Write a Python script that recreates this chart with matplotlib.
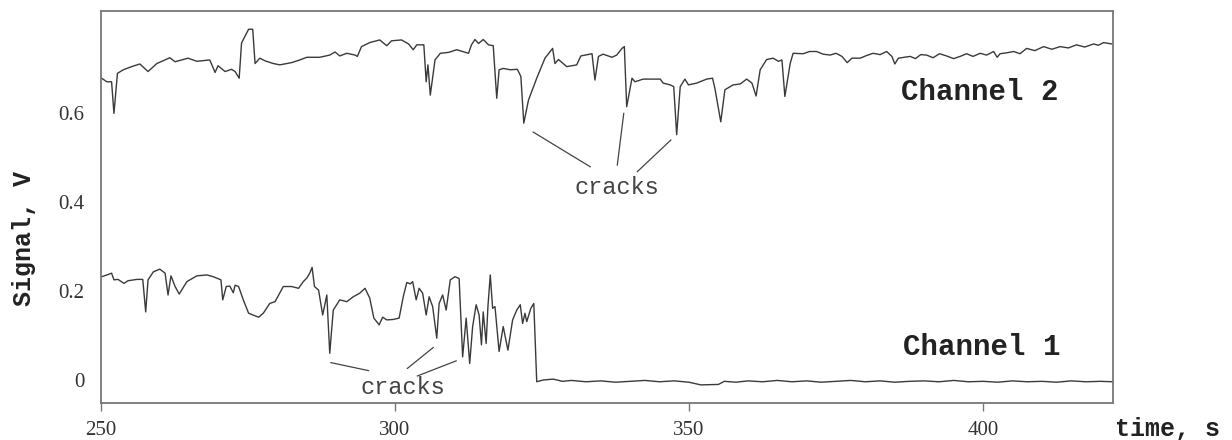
import matplotlib
matplotlib.use("Agg")
import matplotlib.pyplot as plt

# ---------------- data ----------------
ch2_t = [250.1, 251.0, 251.8, 252.2, 252.8, 253.8, 255.2, 256.6, 258.0, 259.5,
         261.7, 262.6, 264.8, 266.3, 268.5, 269.4, 269.9, 271.1, 272.2, 272.8,
         273.5, 273.9, 275.1, 275.8, 276.2, 277.0, 277.9, 279.3, 280.4, 282.4,
         283.8, 285.0, 287.2, 288.9, 289.8, 290.6, 291.8, 293.2, 293.6, 294.3,
         295.7, 297.4, 298.6, 299.4, 301.1, 302.3, 303.1, 303.7, 304.9, 305.3,
         305.6, 306.0, 306.8, 307.7, 309.1, 310.5, 312.5, 313.0, 313.6, 314.2,
         315.0, 315.9, 316.7, 317.3, 317.7, 318.4, 319.6, 320.8, 321.4, 321.9,
         322.7, 324.1, 325.5, 326.8, 327.2, 327.8, 329.2, 330.9, 331.6, 333.5,
         334.0, 334.6, 335.4, 336.9, 337.7, 338.6, 339.0, 339.4, 340.3, 340.8,
         342.2, 345.1, 345.6, 346.8, 347.4, 347.9, 348.5, 349.3, 349.9, 351.3,
         353.0, 354.0, 354.4, 355.4, 356.1, 357.5, 358.7, 359.8, 360.7, 361.4,
         362.1, 363.2, 364.3, 365.2, 365.8, 366.3, 367.2, 367.7, 369.4, 370.5,
         371.7, 372.8, 374.0, 375.0, 376.0, 376.9, 377.7, 379.1, 380.2, 381.3,
         382.5, 383.6, 384.5, 385.0, 385.6, 387.6, 388.5, 389.4, 390.4, 391.5,
         392.6, 393.8, 395.0, 396.1, 397.2, 398.3, 399.5, 400.6, 401.8, 402.4,
         402.9, 404.0, 405.2, 406.3, 407.4, 408.8, 410.3, 411.7, 413.1, 414.5,
         415.9, 417.3, 418.8, 419.6, 420.5, 421.9]
ch2_v = [0.678, 0.670, 0.670, 0.599, 0.689, 0.697, 0.704, 0.710, 0.693, 0.711,
         0.724, 0.715, 0.723, 0.716, 0.719, 0.691, 0.706, 0.693, 0.698, 0.693,
         0.678, 0.757, 0.788, 0.788, 0.711, 0.723, 0.717, 0.711, 0.708, 0.713,
         0.719, 0.725, 0.725, 0.730, 0.737, 0.728, 0.734, 0.730, 0.727, 0.749,
         0.758, 0.764, 0.751, 0.762, 0.764, 0.755, 0.742, 0.753, 0.753, 0.670,
         0.708, 0.640, 0.719, 0.734, 0.736, 0.742, 0.734, 0.753, 0.765, 0.756,
         0.765, 0.753, 0.751, 0.633, 0.697, 0.700, 0.697, 0.698, 0.682, 0.577,
         0.629, 0.678, 0.723, 0.745, 0.711, 0.720, 0.704, 0.708, 0.728, 0.733,
         0.674, 0.727, 0.732, 0.725, 0.730, 0.745, 0.749, 0.614, 0.678, 0.670,
         0.676, 0.676, 0.667, 0.663, 0.659, 0.551, 0.659, 0.676, 0.663, 0.667,
         0.676, 0.678, 0.655, 0.580, 0.652, 0.663, 0.665, 0.676, 0.667, 0.638,
         0.697, 0.720, 0.723, 0.716, 0.719, 0.637, 0.711, 0.734, 0.733, 0.738,
         0.738, 0.732, 0.730, 0.734, 0.727, 0.713, 0.723, 0.723, 0.729, 0.734,
         0.731, 0.738, 0.727, 0.710, 0.723, 0.727, 0.722, 0.731, 0.730, 0.724,
         0.733, 0.728, 0.722, 0.727, 0.733, 0.727, 0.734, 0.730, 0.738, 0.725,
         0.733, 0.735, 0.738, 0.733, 0.745, 0.740, 0.749, 0.743, 0.749, 0.746,
         0.753, 0.748, 0.755, 0.752, 0.758, 0.755]

ch1_t = [250.1, 251.0, 251.8, 252.2, 252.9, 253.9, 254.6, 256.1, 257.1, 257.6,
         258.0, 258.9, 260.0, 260.9, 261.4, 261.9, 262.6, 263.3, 264.6, 266.3,
         268.0, 269.1, 270.4, 270.7, 271.3, 271.9, 272.5, 272.8, 273.4, 274.2,
         275.1, 276.8, 277.6, 278.7, 279.6, 281.0, 282.4, 283.6, 284.4, 285.0,
         285.5, 285.9, 286.3, 287.0, 287.7, 288.4, 288.9, 289.5, 290.6, 291.8,
         292.9, 294.0, 294.9, 295.7, 296.4, 297.3, 297.9, 298.6, 299.7, 300.7,
         301.4, 302.0, 302.6, 303.0, 303.6, 304.1, 304.7, 305.3, 305.8, 306.4,
         307.1, 307.5, 308.1, 308.7, 309.4, 310.2, 310.9, 311.5, 312.1, 312.7,
         313.2, 313.8, 314.3, 314.7, 315.0, 315.5, 315.8, 316.2, 316.6, 317.0,
         317.7, 318.4, 319.2, 320.0, 320.7, 321.3, 321.7, 322.1, 322.4, 323.1,
         323.6, 324.1, 325.2, 326.9, 328.5, 330.0, 332.5, 335.0, 337.5, 340.0,
         342.5, 345.0, 347.5, 350.0, 352.0, 355.0, 356.0, 358.0, 360.0, 362.5,
         365.0, 367.5, 370.0, 372.5, 375.0, 377.5, 380.0, 382.5, 385.0, 387.5,
         390.0, 392.5, 395.0, 397.5, 400.0, 402.5, 405.0, 407.5, 410.0, 412.5,
         415.0, 417.5, 420.0, 422.0]
ch1_v = [0.232, 0.236, 0.240, 0.225, 0.226, 0.217, 0.223, 0.226, 0.226, 0.153,
         0.225, 0.243, 0.249, 0.240, 0.191, 0.234, 0.210, 0.193, 0.221, 0.234,
         0.236, 0.232, 0.225, 0.180, 0.210, 0.211, 0.196, 0.213, 0.210, 0.180,
         0.150, 0.141, 0.150, 0.172, 0.176, 0.210, 0.210, 0.206, 0.221, 0.229,
         0.240, 0.253, 0.210, 0.202, 0.146, 0.191, 0.060, 0.157, 0.180, 0.176,
         0.187, 0.195, 0.206, 0.184, 0.139, 0.124, 0.141, 0.135, 0.136, 0.139,
         0.187, 0.219, 0.216, 0.221, 0.180, 0.206, 0.195, 0.146, 0.187, 0.165,
         0.094, 0.172, 0.191, 0.157, 0.225, 0.232, 0.228, 0.052, 0.139, 0.037,
         0.120, 0.169, 0.146, 0.079, 0.153, 0.082, 0.165, 0.236, 0.161, 0.165,
         0.064, 0.120, 0.067, 0.135, 0.157, 0.169, 0.127, 0.150, 0.131, 0.161,
         0.172, -0.004, 0.000, 0.002, -0.003, -0.001, -0.004, -0.002, -0.005, -0.003,
         -0.001, -0.004, -0.002, -0.005, -0.011, -0.010, -0.003, -0.005, -0.002, -0.004,
         -0.001, -0.004, -0.002, -0.005, -0.003, -0.001, -0.004, -0.002, -0.005, -0.003,
         -0.002, -0.004, -0.001, -0.004, -0.003, -0.005, -0.002, -0.004, -0.003, -0.005,
         -0.002, -0.004, -0.003, -0.004]

x_ticks = [250, 300, 350, 400]
x_tick_labels = ["250", "300", "350", "400"]
y_ticks = [0.0, 0.2, 0.4, 0.6]
y_tick_labels = ["0", "0.2", "0.4", "0.6"]

# annotation leader lines: (start_t, start_v, end_t, end_v)
ch2_leaders = [(323.5, 0.557, 333.2, 0.479),
               (338.9, 0.599, 337.8, 0.483),
               (346.9, 0.539, 341.2, 0.468)]
ch1_leaders = [(289.1, 0.039, 295.5, 0.021),
               (306.5, 0.073, 302.1, 0.026),
               (310.4, 0.043, 303.8, 0.009)]

# ---------------- figure ----------------
W, H = 1232, 440
fig = plt.figure(figsize=(W / 100, H / 100), dpi=100)
ax = fig.add_axes([101 / W, 1 - 403 / H, (1113 - 101) / W, (403 - 11) / H])

line_color = "#3a3a3a"
ax.plot(ch2_t, ch2_v, color=line_color, lw=1.0)
ax.plot(ch1_t, ch1_v, color=line_color, lw=1.0)

for (t0, v0, t1, v1) in ch2_leaders + ch1_leaders:
    ax.plot([t0, t1], [v0, v1], color="#444444", lw=0.9)

ax.set_xlim(250, 422.1)
ax.set_ylim(-0.0517, 0.829)

serif = ["Liberation Serif", "DejaVu Serif"]
mono = ["Liberation Mono", "DejaVu Sans Mono"]

ax.set_xticks(x_ticks)
ax.set_xticklabels(x_tick_labels, fontfamily=serif, fontsize=15, color="#333333")
ax.set_yticks(y_ticks)
ax.set_yticklabels(y_tick_labels, fontfamily=serif, fontsize=15, color="#333333")
ax.tick_params(axis="x", direction="out", length=6, width=1, color="#777777", pad=7)
ax.tick_params(axis="y", length=0, pad=12)

for s in ax.spines.values():
    s.set_color("#777777")
    s.set_linewidth(1.3)

ax.text(337.8, 0.432, "cracks", fontfamily=mono, fontsize=17, color="#444444",
        ha="center", va="center")
ax.text(301.4, -0.016, "cracks", fontfamily=mono, fontsize=17, color="#444444",
        ha="center", va="center")
ax.text(399.5, 0.647, "Channel 2", fontfamily=mono, fontsize=21, fontweight="bold",
        color="#222222", ha="center", va="center")
ax.text(399.8, 0.073, "Channel 1", fontfamily=mono, fontsize=21, fontweight="bold",
        color="#222222", ha="center", va="center")

fig.text(24 / W, 1 - 238 / H, "Signal, V", fontfamily=mono, fontsize=18,
         fontweight="bold", color="#222222", rotation=90, ha="center", va="center")
fig.text(1115 / W, 1 - 429 / H, "time, s", fontfamily=mono, fontsize=18,
         fontweight="bold", color="#222222", ha="left", va="center")

fig.savefig("out.png", dpi=100)
